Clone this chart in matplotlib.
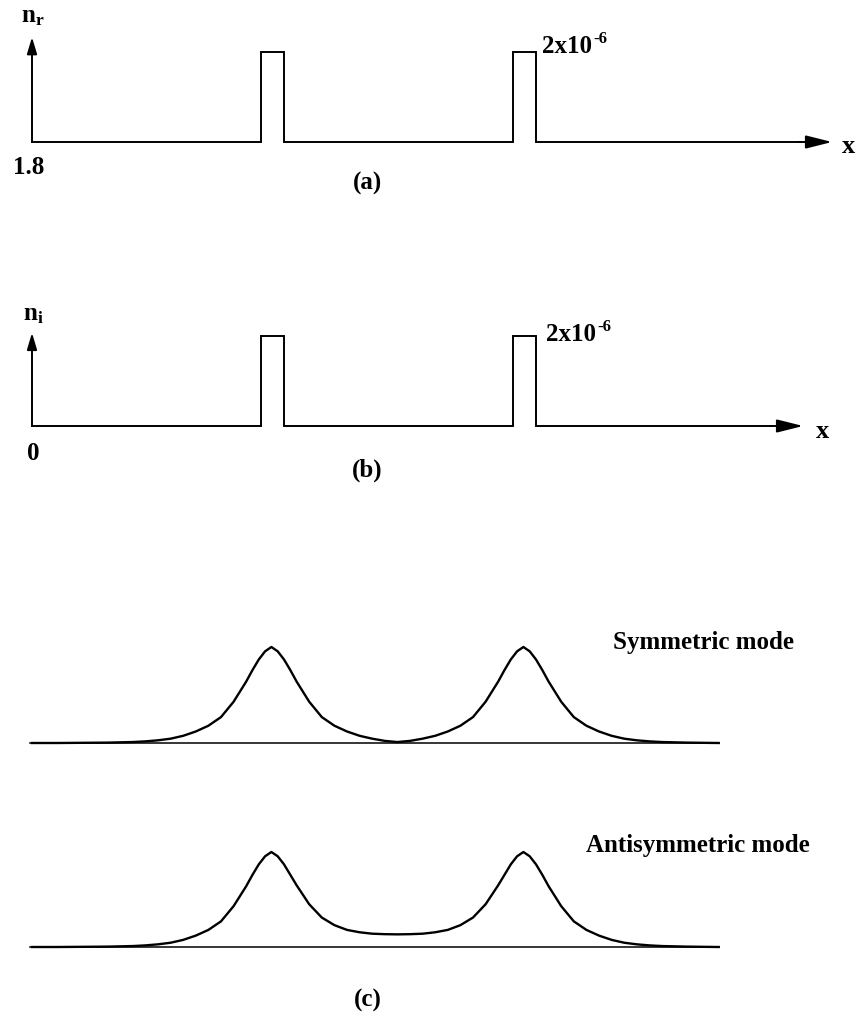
import matplotlib
matplotlib.use("Agg")
import matplotlib.pyplot as plt

plt.rcParams['font.family'] = ['Liberation Serif', 'DejaVu Serif']
plt.rcParams['font.weight'] = 'bold'
plt.rcParams['mathtext.fontset'] = 'custom'
plt.rcParams['mathtext.rm'] = 'Liberation Serif:bold'
plt.rcParams['mathtext.it'] = 'Liberation Serif:bold'
plt.rcParams['mathtext.bf'] = 'Liberation Serif:bold'

W, H = 860, 1019
PX = 25.2   # pixels per x unit
X0 = 32     # pixel column of x = 0

# two guides, edges in x units
guide_edges = [(9.1, 10.0), (19.1, 20.0)]
n_r_clad = 1.8
n_i_clad = 0.0
dn_guide = 2e-6   # index step inside the guides (real and imaginary)

# guided mode profiles (normalised field magnitude)
x_mode = [0, 1, 2, 3, 4, 4.5, 5, 5.5, 6, 6.5, 7, 7.5, 8, 8.5, 8.75, 9, 9.25,
          9.5, 9.75, 10, 10.25, 10.5, 11, 11.5, 12, 12.5, 13, 13.5, 14, 14.5,
          15, 15.5, 16, 16.5, 17, 17.5, 18, 18.5, 18.75, 19, 19.25, 19.5,
          19.75, 20, 20.25, 20.5, 21, 21.5, 22, 22.5, 23, 23.5, 24, 24.5,
          25, 26, 27.25]
sym_mode = [0.0, 0.0, 0.002, 0.004, 0.01, 0.017, 0.028, 0.045, 0.075, 0.12,
            0.18, 0.27, 0.43, 0.64, 0.76, 0.87, 0.955,
            1.0, 0.955, 0.87, 0.76, 0.64, 0.43, 0.27, 0.18, 0.12, 0.075,
            0.045, 0.022, 0.01,
            0.022, 0.045, 0.075, 0.12, 0.18, 0.27, 0.43, 0.64, 0.76, 0.87,
            0.955, 1.0,
            0.955, 0.87, 0.76, 0.64, 0.43, 0.27, 0.18, 0.12, 0.075, 0.045,
            0.028, 0.017,
            0.01, 0.004, 0.0]
anti_mode = [0.0, 0.0, 0.002, 0.004, 0.01, 0.017, 0.028, 0.045, 0.075, 0.12,
             0.18, 0.27, 0.43, 0.64, 0.76, 0.87, 0.955,
             1.0, 0.955, 0.87, 0.76, 0.65, 0.45, 0.31, 0.23, 0.18, 0.155,
             0.14, 0.135, 0.133,
             0.135, 0.14, 0.155, 0.18, 0.23, 0.31, 0.45, 0.65, 0.76, 0.87,
             0.955, 1.0,
             0.955, 0.87, 0.76, 0.64, 0.43, 0.27, 0.18, 0.12, 0.075, 0.045,
             0.028, 0.017,
             0.01, 0.004, 0.0]


def step_profile(edges, end):
    xs, ys = [0.0], [0.0]
    for a, b in edges:
        xs += [a, a, b, b]
        ys += [0.0, 1.0, 1.0, 0.0]
    xs.append(end)
    ys.append(0.0)
    return xs, ys


def panel(top, bottom, base, unit):
    ax = fig.add_axes([0, 1 - bottom / H, 1, (bottom - top) / H])
    ax.set_xlim(-X0 / PX, (W - X0) / PX)
    ax.set_ylim(-(bottom - base) / unit, (base - top) / unit)
    ax.axis('off')
    return ax


def arrow(ax, start, tip, hl, hw):
    ax.annotate('', xy=tip, xytext=start,
                arrowprops=dict(arrowstyle=f'-|>,head_length={hl},head_width={hw}',
                                color='black', lw=1.4, shrinkA=0, shrinkB=0,
                                mutation_scale=20))


def power_label(ax, x, y, mant, expo):
    t = ax.text(x, y, mant, fontsize=fs, ha='left', va='center')
    ax.annotate(expo, xy=(1, 1), xycoords=t, xytext=(1, 3),
                textcoords='offset points', fontsize=fs - 6, ha='left', va='top')


fig = plt.figure(figsize=(W / 100, H / 100), dpi=100)
fs = 18

# (a) real part of the index
ax = panel(0, 215, 142, 45)
px_, py_ = step_profile(guide_edges, 30.5)
dn = [(v * dn_guide) / 1e-6 for v in py_]
ax.plot(px_, dn, color='black', lw=1.4, solid_joinstyle='miter')
arrow(ax, (30.4, 0), (31.75, 0), 0.8, 0.2)
arrow(ax, (0, 0), (0, 2.33), 0.5, 0.15)
ax.text(0.04, 2.78, r'$\mathbf{n_r}$', fontsize=fs, ha='center', va='center')
ax.text(-0.12, -0.56, f'{n_r_clad:.1f}', fontsize=fs, ha='center', va='center')
power_label(ax, 20.24, 2.12, '2x10', '-6')
ax.text(32.42, -0.1, 'x', fontsize=fs + 1, ha='center', va='center')
ax.text(13.3, -0.93, '(a)', fontsize=fs, ha='center', va='center')

# (b) imaginary part of the index
ax = panel(290, 500, 426, 45)
px_, py_ = step_profile(guide_edges, 29.4)
dn = [(v * dn_guide) / 1e-6 for v in py_]
ax.plot(px_, dn, color='black', lw=1.4, solid_joinstyle='miter')
arrow(ax, (29.3, 0), (30.6, 0), 0.8, 0.2)
arrow(ax, (0, 0), (0, 2.07), 0.5, 0.15)
ax.text(0.04, 2.47, r'$\mathbf{n_i}$', fontsize=fs, ha='center', va='center')
ax.text(0.04, -0.6, f'{n_i_clad:.0f}', fontsize=fs, ha='center', va='center')
power_label(ax, 20.4, 2.03, '2x10', '-6')
ax.text(31.35, -0.13, 'x', fontsize=fs + 1, ha='center', va='center')
ax.text(13.3, -0.98, '(b)', fontsize=fs, ha='center', va='center')

# (c) symmetric and antisymmetric modes
ax = panel(600, 780, 743, 96)
ax.plot(x_mode, sym_mode, color='black', lw=1.7)
ax.plot([x_mode[0] - 0.08, x_mode[-1]], [0, 0], color='black', lw=1.1)
ax.text(26.63, 1.05, 'Symmetric mode', fontsize=fs, ha='center', va='center')

ax = panel(800, 1019, 947, 95)
ax.plot(x_mode, anti_mode, color='black', lw=1.7)
ax.plot([x_mode[0] - 0.08, x_mode[-1]], [0, 0], color='black', lw=1.1)
ax.text(26.43, 1.07, 'Antisymmetric mode', fontsize=fs, ha='center', va='center')
ax.text(13.33, -0.56, '(c)', fontsize=fs, ha='center', va='center')

fig.savefig('out.png', dpi=100)
